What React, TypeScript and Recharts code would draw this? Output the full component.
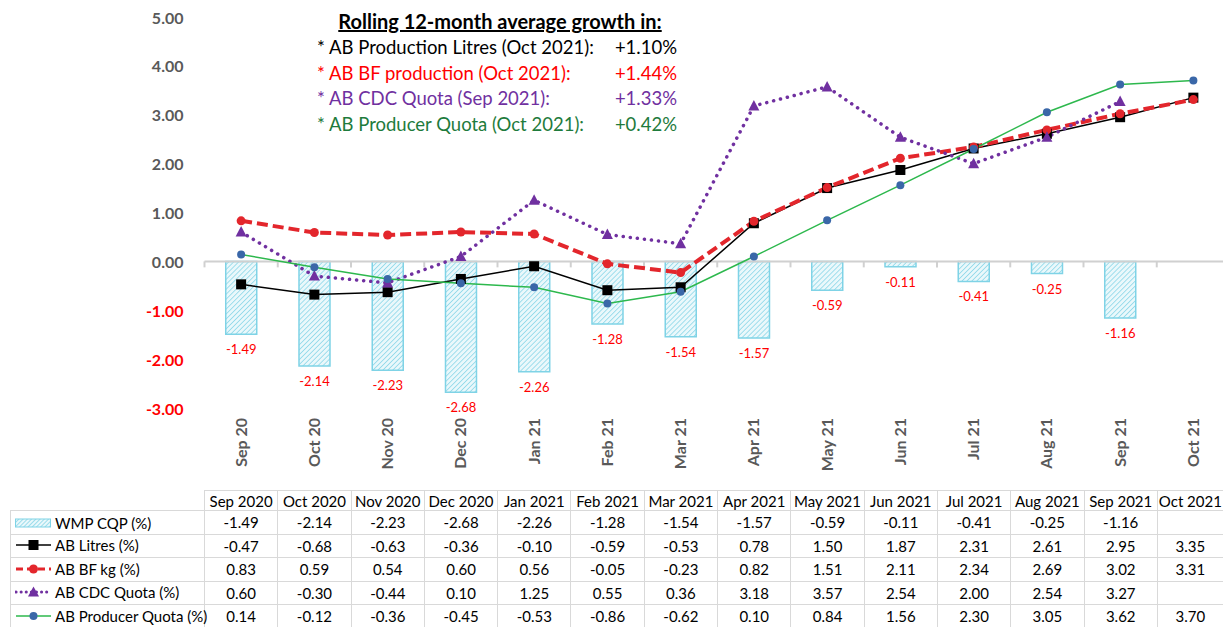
import React from "react";
import { ComposedChart, Bar, Line, XAxis, YAxis, ReferenceLine, LabelList } from "recharts";

// categories
const months = ["Sep 20", "Oct 20", "Nov 20", "Dec 20", "Jan 21", "Feb 21", "Mar 21", "Apr 21", "May 21", "Jun 21", "Jul 21", "Aug 21", "Sep 21", "Oct 21"];
const tableMonths = ["Sep 2020", "Oct 2020", "Nov 2020", "Dec 2020", "Jan 2021", "Feb 2021", "Mar 2021", "Apr 2021", "May 2021", "Jun 2021", "Jul 2021", "Aug 2021", "Sep 2021", "Oct 2021"];

// series values (%)
const wmpCqp = [-1.49, -2.14, -2.23, -2.68, -2.26, -1.28, -1.54, -1.57, -0.59, -0.11, -0.41, -0.25, -1.16, null];
const abLitres = [-0.47, -0.68, -0.63, -0.36, -0.1, -0.59, -0.53, 0.78, 1.5, 1.87, 2.31, 2.61, 2.95, 3.35];
const abBfKg = [0.83, 0.59, 0.54, 0.6, 0.56, -0.05, -0.23, 0.82, 1.51, 2.11, 2.34, 2.69, 3.02, 3.31];
const abCdcQuota = [0.6, -0.3, -0.44, 0.1, 1.25, 0.55, 0.36, 3.18, 3.57, 2.54, 2.0, 2.54, 3.27, null];
const abProducerQuota = [0.14, -0.12, -0.36, -0.45, -0.53, -0.86, -0.62, 0.1, 0.84, 1.56, 2.3, 3.05, 3.62, 3.7];

const yTicks = [-3, -2, -1, 0, 1, 2, 3, 4, 5];

// annotation box
const noteTitle = "Rolling 12-month average growth in:";
const noteLabels = ["* AB Production Litres (Oct 2021):", "* AB BF production (Oct 2021):", "* AB CDC Quota (Sep 2021):", "* AB Producer Quota (Oct 2021):"];
const noteValues = ["+1.10%", "+1.44%", "+1.33%", "+0.42%"];

const FONT = "Lato, 'Open Sans', sans-serif";
const C_BLACK = "#000000";
const C_RED = "#e3262c";
const C_PURPLE = "#7030a0";
const C_GREEN = "#2db84d";
const C_BLUE = "#3a67a8";
const C_BAR = "#7fd3e6";
const noteColors = ["#000000", "#ff0000", "#7030a0", "#1e7b3c"];

const data = months.map((m, i) => ({
  month: m,
  wmp: wmpCqp[i],
  litres: abLitres[i],
  bf: abBfKg[i],
  cdc: abCdcQuota[i],
  producer: abProducerQuota[i],
}));

const tableRows = [
  { name: "WMP CQP (%)", values: wmpCqp, icon: "bar" },
  { name: "AB Litres (%)", values: abLitres, icon: "litres" },
  { name: "AB BF kg (%)", values: abBfKg, icon: "bf" },
  { name: "AB CDC Quota (%)", values: abCdcQuota, icon: "cdc" },
  { name: "AB Producer Quota (%)", values: abProducerQuota, icon: "producer" },
];

const fmt = (v: number | null) => (v === null || v === undefined ? "" : v.toFixed(2));

function YTick(props: any) {
  const { x, y, payload } = props;
  const v = payload.value as number;
  return (
    <text x={x - 1} y={y} textAnchor="end" dominantBaseline="central" fontFamily={FONT} fontWeight={700} fontSize={16} fill={v < 0 ? "#ff0000" : "#595959"}>
      {v.toFixed(2)}
    </text>
  );
}

function XTick(props: any) {
  const { x, payload } = props;
  return (
    <g transform={`translate(${x},418)`}>
      <text transform="rotate(-90)" textAnchor="end" dy="0.35em" fontFamily={FONT} fontWeight={700} fontSize={16} fill="#595959">
        {payload.value}
      </text>
    </g>
  );
}

function ZeroAxis(props: any) {
  const { x1, y1, x2 } = props;
  if (x1 === undefined || y1 === undefined) return null;
  const step = (x2 - x1) / months.length;
  const ticks = [];
  for (let i = 0; i <= months.length; i++) {
    const tx = x1 + i * step;
    ticks.push(<line key={i} x1={tx} y1={y1} x2={tx} y2={y1 + 6} stroke="#d0d0d0" strokeWidth={2} />);
  }
  return (
    <g>
      <line x1={x1} y1={y1} x2={x2} y2={y1} stroke="#d0d0d0" strokeWidth={2} />
      {ticks}
    </g>
  );
}

function BarValueLabel(props: any) {
  const { x, y, width, height, value } = props;
  if (value === null || value === undefined) return null;
  const bottom = Math.max(y, y + height);
  return (
    <text x={x + width / 2} y={bottom + 15} textAnchor="middle" dominantBaseline="central" fontFamily={FONT} fontSize={13} fill="#ff0000">
      {fmt(value)}
    </text>
  );
}

const squareDot = (props: any) => {
  const { cx, cy, index } = props;
  if (cy === null || cy === undefined) return <g key={index} />;
  return <rect key={index} x={cx - 5} y={cy - 5} width={10} height={10} fill={C_BLACK} />;
};

const triangleDot = (props: any) => {
  const { cx, cy, index } = props;
  if (cy === null || cy === undefined) return <g key={index} />;
  return <polygon key={index} points={`${cx},${cy - 6} ${cx - 5.5},${cy + 4.5} ${cx + 5.5},${cy + 4.5}`} fill={C_PURPLE} />;
};

function LegendIcon({ kind }: { kind: string }) {
  if (kind === "bar") {
    return (
      <svg width={37} height={10}>
        <rect x={0.5} y={1} width={35} height={8} fill="url(#hatchSmall)" stroke={C_BAR} strokeWidth={1} />
        <defs>
          <pattern id="hatchSmall" patternUnits="userSpaceOnUse" width={3} height={3} patternTransform="rotate(45)">
            <rect width={3} height={3} fill="#eaf8fb" />
            <line x1={0} y1={0} x2={0} y2={3} stroke={C_BAR} strokeWidth={1.5} />
          </pattern>
        </defs>
      </svg>
    );
  }
  const cfg: Record<string, { color: string; dash?: string; w: number; cap?: string }> = {
    litres: { color: C_BLACK, w: 1.5 },
    bf: { color: C_RED, dash: "7 4", w: 3 },
    cdc: { color: C_PURPLE, dash: "0.1 5", w: 3, cap: "round" },
    producer: { color: C_GREEN, w: 1.5 },
  };
  const c = cfg[kind];
  return (
    <svg width={37} height={14}>
      <line x1={1} y1={7} x2={36} y2={7} stroke={c.color} strokeWidth={c.w} strokeDasharray={c.dash} strokeLinecap={(c.cap as any) || "butt"} />
      {kind === "litres" && <rect x={13.5} y={2} width={10} height={10} fill={C_BLACK} />}
      {kind === "bf" && <circle cx={18.5} cy={7} r={4.5} fill={C_RED} />}
      {kind === "cdc" && <polygon points="18.5,1.5 13,11.5 24,11.5" fill={C_PURPLE} />}
      {kind === "producer" && <circle cx={18.5} cy={7} r={4} fill={C_BLUE} />}
    </svg>
  );
}

const border = "1.5px solid #d9d9d9";
const colW = 73.3;
const lastColW = 66;

export default function App() {
  return (
    <div style={{ position: "absolute", left: 0, top: 0, width: 1223, height: 627, overflow: "hidden", background: "#fff", fontFamily: FONT }}>
      <ComposedChart width={1232} height={480} data={data} margin={{ top: 17, right: 2, bottom: 0, left: 0 }} barCategoryGap="29%">
        <defs>
          <pattern id="hatch" patternUnits="userSpaceOnUse" width={3.5} height={3.5} patternTransform="rotate(45)">
            <rect width={3.5} height={3.5} fill="#eaf8fb" />
            <line x1={0} y1={0} x2={0} y2={3.5} stroke={C_BAR} strokeWidth={1.4} />
          </pattern>
        </defs>
        <XAxis dataKey="month" axisLine={false} tickLine={false} tick={<XTick />} height={72} interval={0} />
        <YAxis domain={[-3, 5]} ticks={yTicks} interval={0} axisLine={false} tickLine={false} width={204.5} tickMargin={14} tick={<YTick />} />
        <ReferenceLine y={0} shape={<ZeroAxis />} />
        <Bar dataKey="wmp" fill="url(#hatch)" stroke={C_BAR} strokeWidth={1.5} isAnimationActive={false}>
          <LabelList dataKey="wmp" content={<BarValueLabel />} />
        </Bar>
        <Line dataKey="litres" type="linear" stroke={C_BLACK} strokeWidth={1.5} dot={squareDot} activeDot={false} isAnimationActive={false} />
        <Line dataKey="bf" type="linear" stroke={C_RED} strokeWidth={4} strokeDasharray="11 5" dot={{ r: 4.5, fill: C_RED, stroke: "none" }} activeDot={false} isAnimationActive={false} />
        <Line dataKey="cdc" type="linear" stroke={C_PURPLE} strokeWidth={3.5} strokeDasharray="0.1 7" strokeLinecap="round" dot={triangleDot} activeDot={false} isAnimationActive={false} />
        <Line dataKey="producer" type="linear" stroke={C_GREEN} strokeWidth={1.5} dot={{ r: 4, fill: C_BLUE, stroke: "none" }} activeDot={false} isAnimationActive={false} />
      </ComposedChart>

      <div style={{ position: "absolute", left: 300, top: 8, width: 400, fontSize: 18.5 }}>
        <div style={{ textAlign: "center", fontWeight: 700, textDecoration: "underline", fontSize: 20, marginLeft: 20, width: 360, lineHeight: "26px" }}>{noteTitle}</div>
        {noteLabels.map((label, i) => (
          <div key={label} style={{ position: "absolute", left: 17, top: 26 + i * 25.7, width: 360, display: "flex", justifyContent: "space-between", color: noteColors[i], lineHeight: "26px" }}>
            <span>{label}</span>
            <span>{noteValues[i]}</span>
          </div>
        ))}
      </div>

      <table style={{ position: "absolute", left: 10, top: 490, borderCollapse: "collapse", tableLayout: "fixed", width: 194 + colW * 13 + lastColW, fontSize: 15, color: "#000" }}>
        <colgroup>
          <col style={{ width: 194 }} />
          {tableMonths.map((m, i) => (
            <col key={m} style={{ width: i === tableMonths.length - 1 ? lastColW : colW }} />
          ))}
        </colgroup>
        <tbody>
          <tr style={{ height: 20 }}>
            <td style={{ padding: 0 }} />
            {tableMonths.map((m) => (
              <td key={m} style={{ border, textAlign: "center", padding: 0, whiteSpace: "nowrap", lineHeight: "18px" }}>{m}</td>
            ))}
          </tr>
          {tableRows.map((row) => (
            <tr key={row.name} style={{ height: 23.5 }}>
              <td style={{ border, padding: "0 0 0 4px", whiteSpace: "nowrap", lineHeight: "20px" }}>
                <span style={{ display: "inline-flex", alignItems: "center", gap: 3 }}>
                  <LegendIcon kind={row.icon} />
                  {row.name}
                </span>
              </td>
              {row.values.map((v, i) => (
                <td key={i} style={{ border, textAlign: "center", padding: 0, lineHeight: "20px" }}>{fmt(v)}</td>
              ))}
            </tr>
          ))}
        </tbody>
      </table>
    </div>
  );
}
